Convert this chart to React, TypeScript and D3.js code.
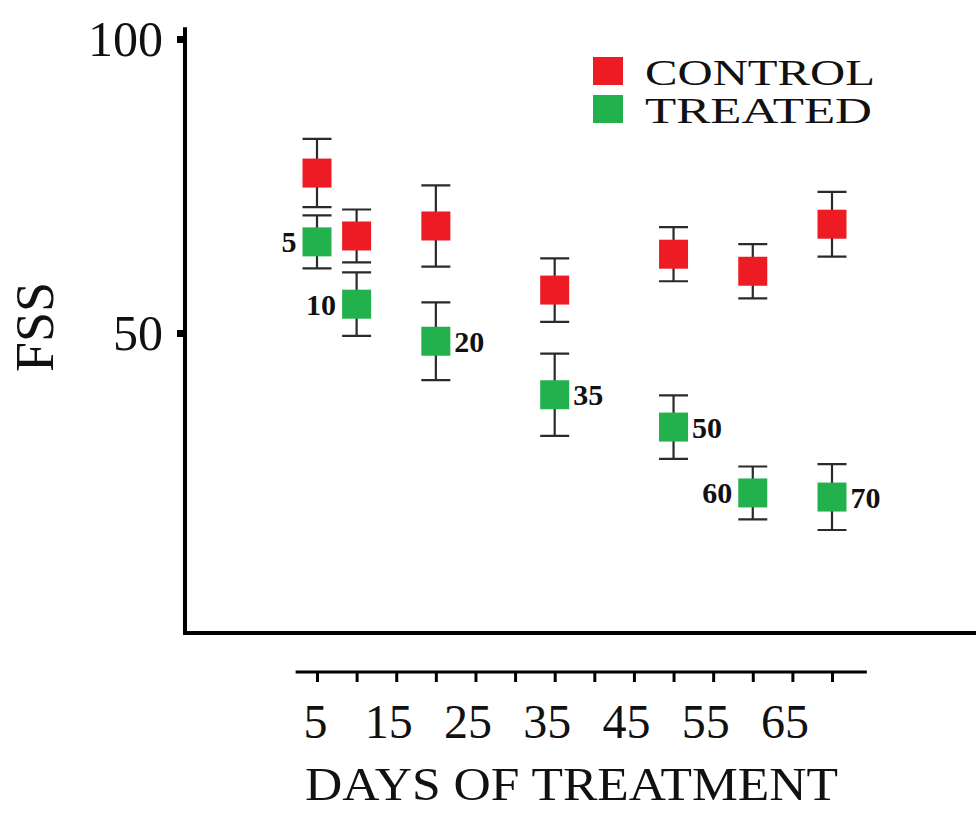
import React, { useEffect, useRef } from 'react';
import * as d3 from 'd3';

// days of treatment and FSS means / error half-widths
const days = [5, 10, 20, 35, 50, 60, 70];
const controlMean = [77.2, 66.5, 68.2, 57.3, 63.4, 60.5, 68.5];
const controlErr = [5.8, 4.5, 6.9, 5.4, 4.6, 4.6, 5.5];
const treatedMean = [65.5, 54.9, 48.6, 39.5, 34.0, 22.8, 22.1];
const treatedErr = [4.5, 5.4, 6.6, 7.0, 5.4, 4.5, 5.6];
const treatedLabelSide = ['left', 'left', 'right', 'right', 'right', 'left', 'right'];

const xTicks = d3.range(5, 71, 5);
const xTickLabels = [5, 15, 25, 35, 45, 55, 65];
const yTicks = [50, 100];

const seriesNames = ['CONTROL', 'TREATED'];
const seriesColors = ['#ed1c24', '#22b14c'];

const width = 976;
const height = 814;
const font = '"Liberation Serif", "DejaVu Serif", serif';

function drawChart(node: SVGSVGElement) {
  const svg = d3.select(node);
  svg.selectAll('*').remove();

  const x = d3.scaleLinear().domain([5, 70]).range([317, 832]);
  const y = d3.scaleLinear().domain([0, 100]).range([627, 39]);
  const axisLeftX = 185;
  const axisBottomY = 633;
  const box = 29;

  // frame: left and bottom axis lines
  svg
    .append('path')
    .attr('d', `M${axisLeftX},${y(102)}V${axisBottomY}H${width}`)
    .attr('fill', 'none')
    .attr('stroke', '#000')
    .attr('stroke-width', 4);

  // y axis ticks
  const yAxis = d3
    .axisLeft(y)
    .tickValues(yTicks)
    .tickSize(8)
    .tickPadding(14)
    .tickFormat((d) => String(d));

  svg
    .append('g')
    .attr('transform', `translate(${axisLeftX},0)`)
    .call(yAxis)
    .call((g) => g.select('.domain').remove())
    .call((g) => g.selectAll('.tick line').attr('stroke-width', 7))
    .call((g) =>
      g
        .selectAll('.tick text')
        .attr('font-family', font)
        .attr('font-size', 50)
        .attr('fill', '#111')
    );

  svg
    .append('text')
    .attr('transform', `translate(53,${y(50) - 6}) rotate(-90)`)
    .attr('text-anchor', 'middle')
    .attr('font-family', font)
    .attr('font-size', 54)
    .attr('fill', '#111')
    .text('FSS');

  // detached x axis below the frame
  const xAxis = d3
    .axisBottom(x)
    .tickValues(xTicks)
    .tickSize(10)
    .tickPadding(22)
    .tickFormat((d) => (xTickLabels.includes(+d) ? String(d) : ''));

  svg
    .append('g')
    .attr('transform', 'translate(0,672)')
    .call(xAxis)
    .call((g) => g.select('.domain').remove())
    .call((g) => g.selectAll('.tick line').attr('stroke-width', 3))
    .call((g) =>
      g
        .selectAll('.tick text')
        .attr('font-family', font)
        .attr('font-size', 48)
        .attr('fill', '#111')
        .attr('dx', (d) => (+d === 5 ? -2 : -8))
    );

  svg
    .append('line')
    .attr('x1', x(2.3))
    .attr('x2', x(74.4))
    .attr('y1', 672)
    .attr('y2', 672)
    .attr('stroke', '#000')
    .attr('stroke-width', 3);

  svg
    .append('text')
    .attr('x', 305)
    .attr('y', 800)
    .attr('font-family', font)
    .attr('font-size', 46)
    .attr('fill', '#111')
    .attr('textLength', 533)
    .attr('lengthAdjust', 'spacingAndGlyphs')
    .text('DAYS OF TREATMENT');

  // error bars + square markers
  const series = [
    { mean: controlMean, err: controlErr, color: seriesColors[0] },
    { mean: treatedMean, err: treatedErr, color: seriesColors[1] },
  ];

  series.forEach((s) => {
    const g = svg.append('g');
    days.forEach((d, i) => {
      const cx = x(d);
      const lo = y(s.mean[i] - s.err[i]);
      const hi = y(s.mean[i] + s.err[i]);
      g.append('path')
        .attr(
          'd',
          `M${cx},${hi}V${lo}M${cx - box / 2},${hi}H${cx + box / 2}M${cx - box / 2},${lo}H${cx + box / 2}`
        )
        .attr('fill', 'none')
        .attr('stroke', '#2a2a2a')
        .attr('stroke-width', 2.2);
      g.append('rect')
        .attr('x', cx - box / 2)
        .attr('y', y(s.mean[i]) - box / 2)
        .attr('width', box)
        .attr('height', box)
        .attr('fill', s.color);
    });
  });

  // day labels next to the treated points
  svg
    .append('g')
    .selectAll('text')
    .data(days)
    .join('text')
    .attr('x', (d, i) => x(d) + (treatedLabelSide[i] === 'left' ? -(box / 2 + 6) : box / 2 + 4))
    .attr('y', (d, i) => y(treatedMean[i]))
    .attr('dy', '0.35em')
    .attr('text-anchor', (d, i) => (treatedLabelSide[i] === 'left' ? 'end' : 'start'))
    .attr('font-family', font)
    .attr('font-weight', 'bold')
    .attr('font-size', 30)
    .attr('fill', '#111')
    .text((d) => d);

  // legend
  const legend = svg.append('g').attr('transform', 'translate(593,57)');
  seriesNames.forEach((name, i) => {
    legend
      .append('rect')
      .attr('x', 0)
      .attr('y', i * 38)
      .attr('width', 30)
      .attr('height', 28)
      .attr('fill', seriesColors[i]);
    legend
      .append('text')
      .attr('x', 52)
      .attr('y', i * 38 + 28)
      .attr('font-family', font)
      .attr('font-size', 36)
      .attr('fill', '#111')
      .attr('textLength', i === 0 ? 230 : 227)
      .attr('lengthAdjust', 'spacingAndGlyphs')
      .text(name);
  });
}

export default function App() {
  const ref = useRef<SVGSVGElement>(null);

  useEffect(() => {
    if (ref.current) drawChart(ref.current);
  }, []);

  return (
    <svg
      ref={ref}
      width={width}
      height={height}
      viewBox={`0 0 ${width} ${height}`}
      style={{ position: 'absolute', left: 0, top: 0, background: '#fff' }}
    />
  );
}
